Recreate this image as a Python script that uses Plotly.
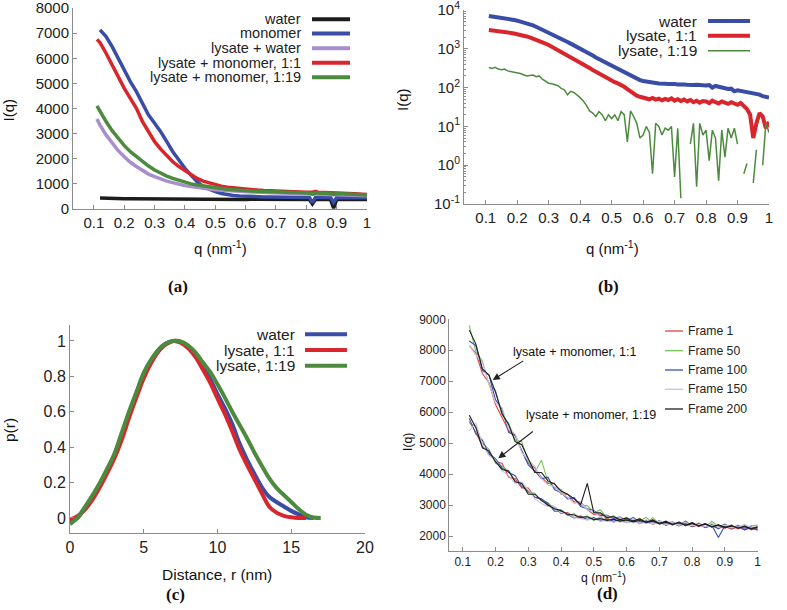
import plotly.graph_objects as go

W, H = 787, 610

# ---------------------------------------------------------
# DATA
# ---------------------------------------------------------
# (a) scattering curves, linear scale
q_a = [0.11, 0.12, 0.14, 0.16, 0.18, 0.20, 0.22, 0.24, 0.26, 0.28,
       0.30, 0.32, 0.34, 0.36, 0.38, 0.40, 0.42, 0.44, 0.46, 0.48,
       0.50, 0.52, 0.54, 0.56, 0.58, 0.60, 0.62, 0.64, 0.66, 0.68,
       0.70, 0.72, 0.74, 0.76, 0.78, 0.80, 0.81, 0.82, 0.83, 0.84,
       0.86, 0.88, 0.89, 0.90, 0.92, 0.94, 0.96, 0.98, 1.00]
water_a = [None, 440, 425, 420, 415, 410, 408, 405, 400, 398,
           395, 398, 395, 392, 395, 390, 392, 388, 390, 385,
           388, 385, 387, 384, 386, 383, 385, 382, 384, 381,
           383, 380, 382, 379, 381, 378, 380, 200, 379, 377,
           378, 376, 30, 377, 376, 378, 375, 377, 376]
monomer_a = [None, 7130, 6860, 6460, 6000, 5470, 5070, 4670, 4210, 3740,
             3410, 3080, 2680, 2280, 1950, 1620, 1350, 1090, 890, 780,
             690, 620, 570, 540, 515, 500, 492, 486, 482, 478,
             475, 472, 470, 468, 466, 464, 462, 250, 460, 459,
             457, 455, 260, 454, 452, 451, 450, 449, 448]
lys_water_a = [3580, 3340, 2950, 2610, 2320, 2080, 1860, 1690, 1530, 1390,
               1290, 1190, 1110, 1050, 980, 930, 890, 850, 820, 800,
               770, 750, 735, 720, 705, 690, 680, 670, 660, 650,
               640, 632, 624, 616, 608, 600, 597, 594, 590, 587,
               580, 573, 570, 566, 559, 551, 543, 535, 525]
lys_mono11_a = [6750, 6620, 6200, 5730, 5240, 4800, 4400, 4010, 3480, 3080,
                2680, 2380, 2110, 1880, 1690, 1530, 1350, 1220, 1110, 1035,
                955, 910, 870, 840, 815, 790, 770, 752, 736, 722,
                710, 700, 691, 683, 676, 670, 667, 664, 700, 658,
                652, 645, 642, 660, 628, 615, 602, 590, 578]
lys_mono119_a = [4100, 3875, 3480, 3120, 2810, 2520, 2280, 2080, 1910, 1710,
                 1550, 1420, 1310, 1220, 1140, 1060, 1000, 955, 915, 875,
                 850, 820, 790, 765, 740, 720, 712, 704, 696, 688,
                 680, 672, 665, 658, 651, 644, 641, 590, 636, 633,
                 626, 619, 580, 612, 602, 590, 578, 566, 555]
names_a = ["water", "monomer", "lysate + water",
           "lysate + monomer, 1:1", "lysate + monomer, 1:19"]

# (b) scattering curves, log scale
q_b = [0.11, 0.12, 0.13, 0.14, 0.15, 0.16, 0.17, 0.18, 0.19, 0.20,
       0.21, 0.22, 0.23, 0.24, 0.25, 0.26, 0.27, 0.28, 0.29, 0.30,
       0.31, 0.32, 0.33, 0.34, 0.35, 0.36, 0.37, 0.38, 0.39, 0.40,
       0.41, 0.42, 0.43, 0.44, 0.45, 0.46, 0.47, 0.48, 0.49, 0.50,
       0.51, 0.52, 0.53, 0.54, 0.55, 0.56, 0.57, 0.58, 0.59, 0.60,
       0.61, 0.62, 0.63, 0.64, 0.65, 0.66, 0.67, 0.68, 0.69, 0.70,
       0.71, 0.72, 0.73, 0.74, 0.75, 0.76, 0.77, 0.78, 0.79, 0.80,
       0.81, 0.82, 0.83, 0.84, 0.85, 0.86, 0.87, 0.88, 0.89, 0.90,
       0.91, 0.92, 0.93, 0.94, 0.95, 0.96, 0.97, 0.98, 0.99, 1.00]
water_b = [7000, 6850, 6700, 6550, 6400, 6200, 6000, 5800, 5550, 5300,
           5050, 4800, 4550, 4280, 4000, 3700, 3400, 3100, 2800, 2520,
           2300, 2120, 1950, 1800, 1650, 1500, 1360, 1240, 1120, 1010,
           910, 820, 740, 670, 600, 545, 495, 450, 410, 370,
           335, 300, 270, 245, 220, 200, 182, 168, 156, 148,
           142, 138, 134, 132, 128, 130, 126, 124, 127, 123,
           121, 124, 120, 118, 121, 117, 119, 115, 117, 113,
           116, 100, 110, 104, 99, 97, 92, 94, 80, 85,
           82, 79, 77, 74, 72, 70, 66, 60, 57, 55]
lys11_b = [3050, 3000, 2950, 2880, 2800, 2720, 2640, 2560, 2480, 2400,
           2300, 2200, 2080, 1960, 1840, 1720, 1600, 1480, 1360, 1250,
           1130, 1030, 930, 840, 760, 680, 610, 545, 490, 440,
           395, 355, 318, 285, 255, 228, 205, 185, 166, 150,
           138, 128, 118, 105, 92, 80, 70, 62, 58, 55,
           53, 50, 54, 49, 52, 47, 51, 48, 53, 46,
           50, 45, 49, 44, 48, 42, 46, 41, 45, 44,
           40, 46, 42, 39, 44, 41, 38, 42, 39, 36,
           40, 33, 28, 20, 5, 12, 22, 18, 9, 13]
lys119_b = [330, 310, 335, 300, 290, 300, 270, 260, 250, 245,
            230, 215, 200, 205, 210, 190, 200, 165, 150, 130,
            125, 118, 112, 95, 88, 65, 80, 75, 65, 55,
            45, 35, 25, 22, 18, 24, 20, 14, 20, 16,
            20, 14, 24, 20, 4, 25, 18, 12, 5, 6,
            10, 7, 0.6, 12, 10, 6, 9, 8, 10, 0.5,
            9, 0.14, None, None, 3.5, 12, 0.28, 12, 6, 8,
            1.3, 8, 5, 0.4, 8, 1.6, 9, 5, 9, 3.5,
            None, 0.6, 1.1, None, 0.35, 2.5, None, 1.0, 12, 7]
names_b = ["water", "lysate, 1:1", "lysate, 1:19"]

# (c) pair distance distributions
r_c = [0, 0.5, 1, 1.5, 2, 2.5, 3, 3.5, 4, 4.5, 5, 5.5, 6, 6.5, 7, 7.5, 8, 8.5,
       9, 9.5, 10, 10.5, 11, 11.5, 12, 12.5, 13, 13.5, 14, 14.5, 15, 15.5, 16,
       16.5, 17]
pr_water = [-0.025, 0.0, 0.055, 0.115, 0.19, 0.27, 0.355, 0.465, 0.59, 0.705,
            0.815, 0.89, 0.95, 0.985, 1.0, 0.995, 0.97, 0.925, 0.855, 0.785,
            0.70, 0.62, 0.53, 0.42, 0.33, 0.25, 0.175, 0.12, 0.09, 0.065,
            0.04, 0.02, 0.003, 0.0, None]
pr_11 = [-0.01, 0.01, 0.045, 0.10, 0.17, 0.25, 0.335, 0.44, 0.565, 0.68,
         0.79, 0.875, 0.94, 0.98, 1.0, 0.99, 0.96, 0.91, 0.84, 0.765,
         0.675, 0.587, 0.49, 0.385, 0.30, 0.22, 0.14, 0.065, 0.03, 0.012,
         0.004, 0.0, 0.0, None, None]
pr_119 = [-0.035, 0.0, 0.06, 0.125, 0.195, 0.275, 0.36, 0.48, 0.60, 0.71,
          0.82, 0.895, 0.95, 0.985, 1.0, 0.997, 0.975, 0.935, 0.88, 0.825,
          0.755, 0.68, 0.60, 0.525, 0.45, 0.37, 0.295, 0.225, 0.17, 0.13,
          0.09, 0.05, 0.018, 0.003, 0.0]
names_c = ["water", "lysate, 1:1", "lysate, 1:19"]

# (d) frames over time
q_d = [0.12, 0.14, 0.16, 0.18, 0.20, 0.22, 0.24, 0.26, 0.28, 0.30,
       0.32, 0.34, 0.36, 0.38, 0.40, 0.42, 0.44, 0.46, 0.48, 0.50,
       0.52, 0.54, 0.56, 0.58, 0.60, 0.62, 0.64, 0.66, 0.68, 0.70,
       0.72, 0.74, 0.76, 0.78, 0.80, 0.82, 0.84, 0.86, 0.88, 0.90,
       0.92, 0.94, 0.96, 0.98, 1.00]
frames = ["Frame 1", "Frame 50", "Frame 100", "Frame 150", "Frame 200"]
mono11_d = [
    [8150, 7900, 7250, 6950, 6250, 5850, 5400, 5250, 4750, 4350,
     4200, 3900, 3700, 3700, 3350, 3350, 3100, 3100, 2850, 2700,
     2720, 2560, 2650, 2500, 2600, 2450, 2560, 2420, 2520, 2380,
     2470, 2350, 2450, 2330, 2430, 2300, 2400, 2280, 2370, 2250,
     2360, 2230, 2320, 2200, 2250],
    [8800, 7950, 7650, 6900, 6700, 5900, 5650, 5100, 5050, 4400,
     4050, 4450, 3750, 3550, 3500, 3220, 3250, 2980, 2980, 2750,
     2850, 2580, 2650, 2500, 2600, 2450, 2550, 2400, 2600, 2380,
     2420, 2460, 2330, 2430, 2310, 2420, 2280, 2480, 2300, 2380,
     2260, 2350, 2250, 2330, 2350],
    [8300, 8150, 7350, 7200, 6400, 6100, 5350, 5250, 4750, 4300,
     4100, 3850, 3900, 3500, 3400, 3200, 3230, 2950, 2880, 2820,
     2650, 2680, 2550, 2620, 2480, 2600, 2450, 2500, 2400, 2500,
     2350, 2450, 2330, 2480, 2300, 2400, 2270, 2350, 2230, 2380,
     2250, 2330, 2200, 2300, 2180],
    [8150, 7850, 7600, 6900, 6300, 6150, 5450, 5300, 4700, 4450,
     4250, 3850, 3650, 3600, 3380, 3250, 3050, 3080, 2850, 2800,
     2620, 2650, 2520, 2600, 2450, 2560, 2430, 2530, 2400, 2480,
     2380, 2440, 2350, 2450, 2330, 2380, 2300, 2420, 2280, 2350,
     2330, 2260, 2380, 2240, 2330],
    [8650, 8200, 7400, 7200, 6650, 5950, 5600, 5050, 4950, 4500,
     4050, 4050, 3780, 3680, 3450, 3350, 3200, 3020, 3700, 2750,
     2750, 2600, 2620, 2530, 2580, 2480, 2550, 2440, 2520, 2400,
     2480, 2370, 2450, 2350, 2430, 2320, 2400, 2300, 2350, 2280,
     2340, 2250, 2320, 2230, 2300],
]
mono119_d = [
    [5700, 5350, 4900, 4700, 4400, 4350, 3900, 3850, 3550, 3550,
     3250, 3200, 2980, 2950, 2720, 2760, 2600, 2650, 2520, 2600,
     2480, 2580, 2450, 2540, 2430, 2510, 2400, 2480, 2380, 2450,
     2350, 2420, 2330, 2400, 2300, 2360, 2280, 2330, 2250, 2310,
     2220, 2290, 2200, 2270, 2230],
    [5650, 5550, 5000, 4800, 4350, 4250, 4100, 3780, 3700, 3400,
     3380, 3130, 3080, 2850, 2850, 2650, 2720, 2560, 2650, 2500,
     2620, 2470, 2560, 2450, 2550, 2420, 2500, 2600, 2400, 2460,
     2370, 2440, 2350, 2480, 2320, 2400, 2300, 2380, 2280, 2330,
     2300, 2270, 2330, 2250, 2300],
    [5800, 5300, 5100, 4650, 4500, 4200, 4050, 3950, 3600, 3450,
     3250, 3200, 3050, 2800, 2800, 2700, 2580, 2620, 2540, 2580,
     2500, 2540, 2480, 2520, 2450, 2490, 2430, 2460, 2400, 2440,
     2380, 2420, 2340, 2400, 2320, 2370, 2300, 2350, 1950, 2330,
     2260, 2310, 2240, 2280, 2200],
    [5400, 5650, 4950, 4600, 4450, 4100, 3950, 3700, 3750, 3500,
     3200, 3050, 2950, 2950, 2750, 2720, 2600, 2560, 2520, 2560,
     2480, 2500, 2450, 2480, 2430, 2460, 2410, 2440, 2390, 2420,
     2370, 2400, 2350, 2380, 2330, 2360, 2300, 2340, 2290, 2320,
     2270, 2300, 2260, 2290, 2270],
    [5900, 5500, 4850, 4750, 4400, 4150, 4100, 3750, 3700, 3350,
     3350, 3150, 3000, 2880, 2820, 2700, 2680, 2600, 2620, 2530,
     2560, 2500, 2540, 2480, 2520, 2460, 2500, 2440, 2480, 2400,
     2440, 2380, 2420, 2350, 2400, 2330, 2380, 2300, 2350, 2280,
     2320, 2260, 2300, 2240, 2280],
]

# tick labels
q_ticks = [0.1, 0.2, 0.3, 0.4, 0.5, 0.6, 0.7, 0.8, 0.9, 1.0]
q_ticktext = ["0.1", "0.2", "0.3", "0.4", "0.5", "0.6", "0.7", "0.8", "0.9", "1"]
ia_ticks = [0, 1000, 2000, 3000, 4000, 5000, 6000, 7000, 8000]
ib_ticks = [0.1, 1, 10, 100, 1000, 10000]
ib_ticktext = ["10<sup>-1</sup>", "10<sup>0</sup>", "10<sup>1</sup>",
               "10<sup>2</sup>", "10<sup>3</sup>", "10<sup>4</sup>"]
r_ticks = [0, 5, 10, 15, 20]
p_ticks = [0, 0.2, 0.4, 0.6, 0.8, 1.0]
p_ticktext = ["0", "0.2", "0.4", "0.6", "0.8", "1"]
id_ticks = [2000, 3000, 4000, 5000, 6000, 7000, 8000, 9000]

# ---------------------------------------------------------
# STYLE
# ---------------------------------------------------------
FONT = "Liberation Sans, Arial, sans-serif"
SERIF = "Liberation Serif, Times New Roman, serif"
TXT = "#222222"
AXIS = "#8c8c8c"
gp_colors = ["#1c1c1c", "#3a4da6", "#a78fcb", "#d8262c", "#4c8b3d"]
gp3_colors = ["#3a4da6", "#d8262c", "#4c8b3d"]
d_colors = ["#e8403c", "#74c35a", "#3b50b5", "#cbbfe4", "#1e1e1e"]


def px(x):
    return x / W


def py(y):
    return 1 - y / H


def ax_style(size=15, **kw):
    base = dict(showline=True, linecolor=AXIS, linewidth=1, ticks="inside",
                ticklen=4, tickcolor=AXIS, tickwidth=1, showgrid=False,
                zeroline=False, automargin=False, ticklabeloverflow="allow",
                tickfont=dict(family=FONT, size=size, color=TXT))
    base.update(kw)
    return base


fig = go.Figure()

# (a)
for ys, c, n in zip([water_a, monomer_a, lys_water_a, lys_mono11_a, lys_mono119_a],
                    gp_colors, names_a):
    fig.add_trace(go.Scatter(x=q_a, y=ys, mode="lines", name=n, xaxis="x", yaxis="y",
                             line=dict(color=c, width=3.5)))
# (b)
for ys, c, n, w in zip([water_b, lys11_b, lys119_b], gp3_colors, names_b, [4, 4, 1.5]):
    fig.add_trace(go.Scatter(x=q_b, y=ys, mode="lines", name=n, xaxis="x2", yaxis="y2",
                             line=dict(color=c, width=w), connectgaps=False))
# (c)
for ys, c, n in zip([pr_water, pr_11, pr_119], gp3_colors, names_c):
    fig.add_trace(go.Scatter(x=r_c, y=ys, mode="lines", name=n, xaxis="x3", yaxis="y3",
                             line=dict(color=c, width=4, shape="spline")))
# (d)
for i, (f, c) in enumerate(zip(frames, d_colors)):
    for ys in (mono11_d[i], mono119_d[i]):
        fig.add_trace(go.Scatter(x=q_d, y=ys, mode="lines", name=f, xaxis="x4", yaxis="y4",
                                 line=dict(color=c, width=1.1)))

# ---------------------------------------------------------
# LEGENDS (gnuplot style: text then sample) + LABELS
# ---------------------------------------------------------
shapes, annotations = [], []


def legend_block(names, colors, widths, text_right, x0, x1, rows, size):
    for n, c, w, y in zip(names, colors, widths, rows):
        annotations.append(dict(text=n, x=px(text_right), y=py(y), xref="paper", yref="paper",
                                xanchor="right", yanchor="middle", showarrow=False,
                                font=dict(family=FONT, size=size, color=TXT)))
        shapes.append(dict(type="line", xref="paper", yref="paper", x0=px(x0), x1=px(x1),
                           y0=py(y), y1=py(y), line=dict(color=c, width=w)))


legend_block(names_a, gp_colors, [4] * 5, 303, 312, 350, [19.3, 33.5, 48.3, 62.7, 77.3], 14.5)
legend_block(names_b, gp3_colors, [4, 4, 1.5], 699, 708, 750, [21, 35.7, 50.7], 15.5)
legend_block(names_c, gp3_colors, [4, 4, 4], 297, 305, 347, [334.3, 350, 365.7], 15.5)

for f, c, y in zip(frames, d_colors, [331, 350.7, 370, 389.3, 409]):
    shapes.append(dict(type="line", xref="paper", yref="paper", x0=px(665), x1=px(683),
                       y0=py(y), y1=py(y), line=dict(color=c, width=1.3)))
    annotations.append(dict(text=f, x=px(686), y=py(y), xref="paper", yref="paper",
                            xanchor="left", yanchor="middle", showarrow=False,
                            font=dict(family=FONT, size=12.2, color=TXT)))


def label(text, x, y, size=15, angle=0, font=FONT, bold=False):
    if bold:
        text = "<b>" + text + "</b>"
    annotations.append(dict(text=text, x=px(x), y=py(y), xref="paper", yref="paper",
                            xanchor="center", yanchor="middle", showarrow=False,
                            textangle=angle, font=dict(family=font, size=size, color="#111111")))


label("I(q)", 8.5, 110, angle=-90)
label("q (nm<sup>-1</sup>)", 220, 247)
label("I(q)", 403, 100, angle=-90)
label("q (nm<sup>-1</sup>)", 612, 247)
label("p(r)", 9, 430, size=15.5, angle=-90)
label("Distance, r (nm)", 217, 574, size=15.5)
label("I(q)", 408, 442, size=12.2, angle=-90)
label("q (nm<sup>\u22121</sup>)", 603, 577, size=12.2)
label("(a)", 178, 287, size=17, font=SERIF, bold=True)
label("(b)", 608, 287, size=17, font=SERIF, bold=True)
label("(c)", 175, 594, size=17, font=SERIF, bold=True)
label("(d)", 607, 593, size=17, font=SERIF, bold=True)
label("lysate + monomer, 1:1", 574, 352, size=12.5)
label("lysate + monomer, 1:19", 591, 415, size=12.5)

# arrows in (d)
for xt, yt, ax, ay in [(0.1915, 7040, 32, -20), (0.2085, 4510, 36, -28)]:
    annotations.append(dict(text="", x=xt, y=yt, xref="x4", yref="y4", ax=ax, ay=ay,
                            showarrow=True, arrowhead=2, arrowsize=1.3, arrowwidth=1.1,
                            arrowcolor="#222222"))

fig.update_layout(
    width=W, height=H, margin=dict(l=0, r=0, t=0, b=0, autoexpand=False),
    paper_bgcolor="white", plot_bgcolor="white", showlegend=False,
    xaxis=ax_style(domain=[px(73), px(367)], range=[0.031, 1.0], anchor="y",
                   tickvals=q_ticks, ticktext=q_ticktext),
    yaxis=ax_style(domain=[py(209), py(8)], range=[0, 8000], anchor="x",
                   tickvals=ia_ticks),
    xaxis2=ax_style(domain=[px(464), px(769)], range=[0.031, 1.0], anchor="y2",
                    tickvals=q_ticks, ticktext=q_ticktext),
    yaxis2=ax_style(domain=[py(204), py(10)], type="log", range=[-1, 4], anchor="x2",
                    tickvals=ib_ticks, ticktext=ib_ticktext,
                    minor=dict(ticks="inside", ticklen=2, tickcolor=AXIS, tickmode="array",
                               tickvals=[m * 10 ** e for e in range(-1, 4) for m in range(2, 10)])),
    xaxis3=ax_style(size=16, domain=[px(70), px(365)], range=[0, 20], anchor="y3",
                    tickvals=r_ticks),
    yaxis3=ax_style(size=16, domain=[py(533), py(325)], range=[-0.085, 1.09], anchor="x3",
                    tickvals=p_ticks, ticktext=p_ticktext),
    xaxis4=ax_style(size=12, domain=[px(449.3), px(757.7)], range=[0.059, 1.0], anchor="y4",
                    tickvals=q_ticks, ticktext=q_ticktext),
    yaxis4=ax_style(size=12, domain=[py(550.7), py(319.3)], range=[1525, 9000], anchor="x4",
                    tickvals=id_ticks),
    shapes=shapes,
    annotations=annotations,
)

# the page body has a default 8px margin; remove it so the figure fills the window
fig.write_html("out.html", config={"displayModeBar": False},
               post_script="document.body.style.margin='0';document.body.style.overflow='hidden';")
